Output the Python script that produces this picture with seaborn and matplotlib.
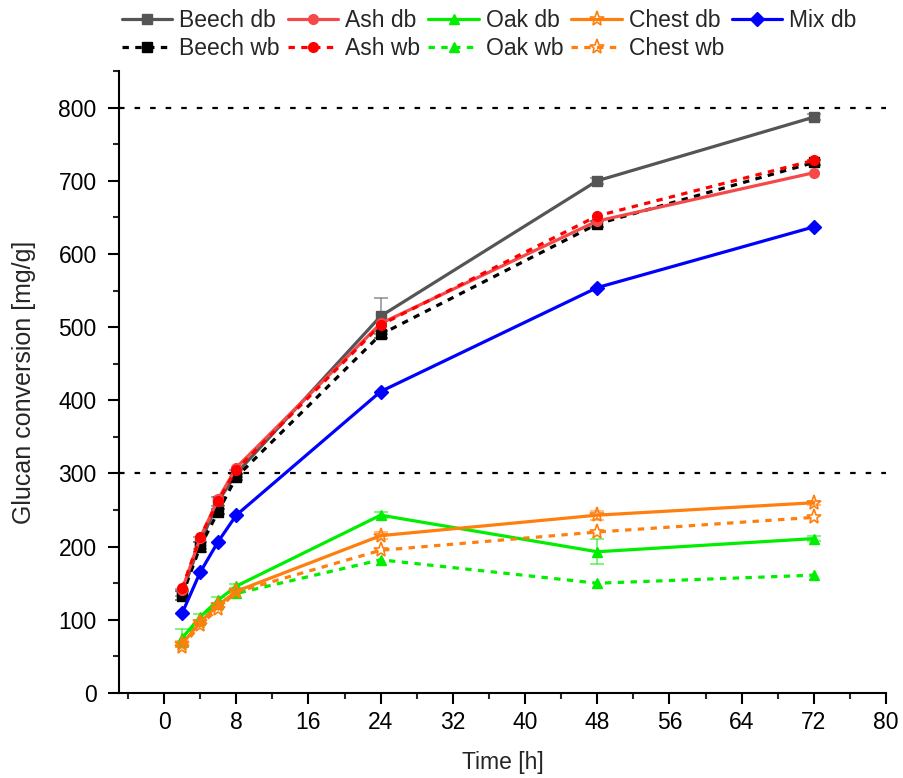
import numpy as np
import pandas as pd
import matplotlib
matplotlib.use("Agg")
import matplotlib.pyplot as plt
from matplotlib.ticker import MultipleLocator
import seaborn as sns

# Data
time_h = [2, 4, 6, 8, 24, 48, 72]

beech_db = [137, 205, 262, 300, 515, 700, 787]
ash_db = [141, 212, 265, 308, 505, 645, 711]
oak_db = [75, 104, 127, 146, 243, 193, 211]
chest_db = [67, 97, 120, 139, 215, 243, 260]
mix_db = [109, 165, 207, 243, 412, 554, 637]
beech_wb = [133, 200, 248, 295, 490, 641, 725]
ash_wb = [143, 213, 263, 305, 503, 652, 728]
oak_wb = [70, 100, 122, 136, 182, 150, 161]
chest_wb = [63, 93, 115, 138, 195, 220, 240]

beech_db_err = [5, 8, 6, 5, 25, 4, 4]
oak_db_err = [12, 4, 4, 3, 4, 17, 3]
chest_db_err = [4, 3, 3, 3, 5, 6, 3]
beech_wb_err = [6, 7, 4, 4, 5, 4, 4]

series = [
    ("Beech db", beech_db, beech_db_err, "#555555", "s", "-"),
    ("Beech wb", beech_wb, beech_wb_err, "#000000", "s", "--"),
    ("Ash db", ash_db, None, "#f54848", "o", "-"),
    ("Ash wb", ash_wb, None, "#ff0000", "o", "--"),
    ("Oak db", oak_db, oak_db_err, "#00ee00", "^", "-"),
    ("Oak wb", oak_wb, None, "#00ee00", "^", "--"),
    ("Chest db", chest_db, chest_db_err, "#ff7f0e", "*", "-"),
    ("Chest wb", chest_wb, None, "#ff7f0e", "*", "--"),
    ("Mix db", mix_db, None, "#0000ff", "D", "-"),
]

sns.set_style("ticks")
plt.rcParams["font.family"] = ["Liberation Sans", "DejaVu Sans"]

fig = plt.figure(figsize=(9.04, 7.78), dpi=100)
ax = fig.add_axes([0.1316, 0.1093, 0.8485, 0.7994])

# Reference lines
ax.axhline(300, color="black", linestyle=(0, (2.5, 4.5)), linewidth=1.6, zorder=1)
ax.axhline(800, color="black", linestyle=(0, (2.5, 4.5)), linewidth=1.6, zorder=1)

handles = []
for name, vals, err, color, marker, ls in series:
    df = pd.DataFrame({"Time": time_h, "Glucan": vals})
    if err is not None:
        ax.errorbar(time_h, vals, yerr=err, fmt="none", ecolor=color, alpha=0.6,
                    elinewidth=1.2, capsize=5, capthick=1.2, zorder=2)
    sns.lineplot(data=df, x="Time", y="Glucan", ax=ax, color=color, linewidth=2.3,
                 marker=marker, markersize=11 if marker == "*" else 7,
                 markeredgecolor=color, markeredgewidth=1 if marker != "*" else 1.2,
                 markerfacecolor="none" if marker == "*" else color,
                 legend=False, zorder=3)
    line = ax.lines[-1]
    if ls == "--":
        line.set_dashes((2, 2))
    line.set_label(name)
    handles.append(line)

ax.set_xlim(-5, 80)
ax.set_ylim(0, 850)
ax.xaxis.set_major_locator(MultipleLocator(8))
ax.xaxis.set_minor_locator(MultipleLocator(4))
ax.set_yticks([0, 100, 200, 300, 400, 500, 600, 700, 800])
ax.yaxis.set_minor_locator(MultipleLocator(50))
ax.tick_params(axis="both", which="major", length=8, width=1.5, direction="out",
               labelsize=16.5, colors="black")
ax.tick_params(axis="both", which="minor", length=4, width=1.5, direction="out")
ax.tick_params(axis="x", which="major", pad=5)
ax.tick_params(axis="y", which="major", pad=8)
for side in ["left", "bottom"]:
    ax.spines[side].set_linewidth(1.5)
    ax.spines[side].set_color("black")
sns.despine(ax=ax)

ax.set_xlabel("Time [h]", fontsize=16.5, labelpad=12)
ax.set_ylabel("Glucan conversion [mg/g]", fontsize=18, labelpad=16)

ax.legend(handles=handles, ncol=5, loc="upper left",
          bbox_to_anchor=(122 / 904, 1 - 9 / 778), bbox_transform=fig.transFigure,
          frameon=False, fontsize=16.5, handlelength=2.2, handletextpad=0.3,
          columnspacing=0.35, labelspacing=0.22, borderaxespad=0, borderpad=0)

fig.savefig("out.png", dpi=100)
